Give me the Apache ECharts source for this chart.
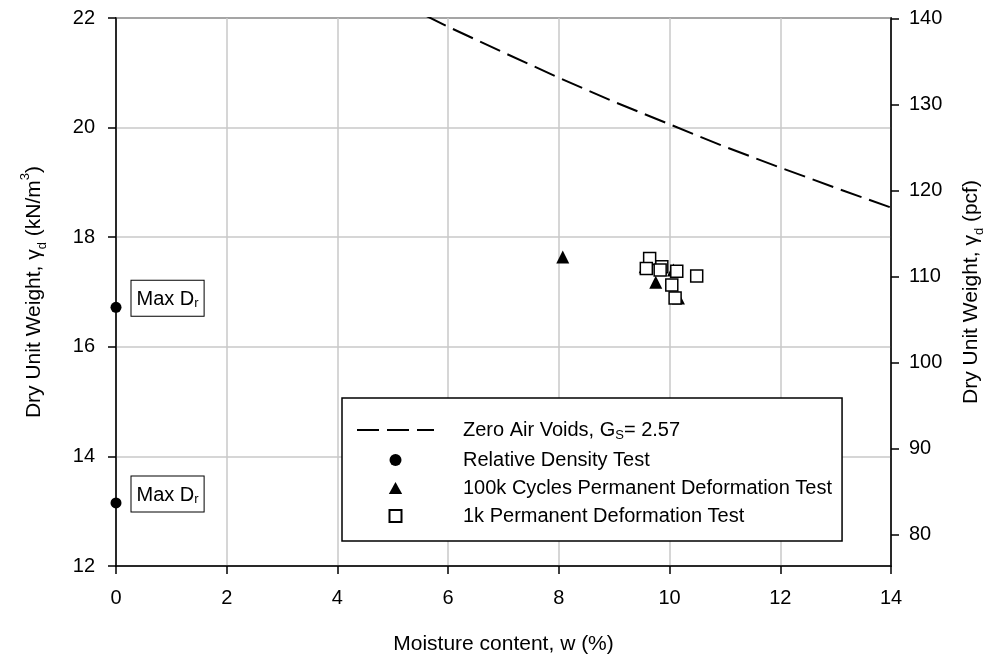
<!DOCTYPE html>
<html><head><meta charset="utf-8">
<script src="https://cdn.jsdelivr.net/npm/echarts@6/dist/echarts.min.js"></script>
<style>html,body{margin:0;padding:0;background:#fff}#c{width:986px;height:660px}</style>
</head><body><div id="c"></div>
<script>
// Zero air voids curve
const zavW = [5.6, 6, 7, 8, 9, 10, 11, 12, 13, 14];
const zavGamma = [22.04, 21.84, 21.37, 20.91, 20.47, 20.06, 19.65, 19.27, 18.90, 18.54];
// Relative density test
const rdW = [0, 0];
const rdGamma = [16.72, 13.15];
// 100k cycles permanent deformation test
const c100kW = [8.07, 9.56, 9.75, 10.07, 10.16];
const c100kGamma = [17.64, 17.46, 17.18, 17.40, 16.89];
// 1k permanent deformation test
const k1W = [9.64, 9.58, 9.86, 9.83, 10.13, 10.49, 10.04, 10.10];
const k1Gamma = [17.61, 17.43, 17.46, 17.40, 17.38, 17.29, 17.13, 16.89];
// axes
const xMin = 0, xMax = 14, xStep = 2;
const leftMin = 12, leftMax = 22, leftStep = 2;
const rightTicks = [80, 90, 100, 110, 120, 130, 140];
const KN_TO_PCF = 6.3659;

const FONT = "'Liberation Sans', Arial, sans-serif";
const zip = (a, b) => a.map((v, i) => [v, b[i]]);
const subStyle = { fontSize: 13, fontFamily: FONT, color: '#000', verticalAlign: 'bottom', lineHeight: 14 };
const supStyle = { fontSize: 13, fontFamily: FONT, color: '#000', verticalAlign: 'top', lineHeight: 14 };

const chart = echarts.init(document.getElementById('c'), null, { renderer: 'canvas' });
chart.setOption({
  animation: false,
  backgroundColor: '#fff',
  textStyle: { fontFamily: FONT },
  grid: { left: 116, right: 95, top: 18, bottom: 94, show: true, borderColor: '#000', borderWidth: 1.5, containLabel: false, outerBoundsMode: 'none' },
  legend: {
    orient: 'vertical', left: 342, top: 398,
    backgroundColor: '#fff', borderColor: '#000', borderWidth: 1.5,
    padding: [22, 10, 15, 14],
    itemWidth: 77, itemHeight: 12, itemGap: 8, symbolKeepAspect: true,
    data: [
      { name: 'zav', itemStyle: { color: 'rgba(0,0,0,0)', borderWidth: 0, opacity: 0 } },
      { name: 'rd', icon: 'circle' },
      { name: 'c100k', icon: 'path://M5,0L10,9L0,9Z' },
      { name: 'k1', icon: 'path://M0,0H10V10H0Z' }
    ],
    formatter: function (n) {
      return {
        zav: '{m|Zero Air Voids, G}{s|S}{m|= 2.57}',
        rd: '{m|Relative Density Test}',
        c100k: '{m|100k Cycles Permanent Deformation Test}',
        k1: '{m|1k Permanent Deformation Test}'
      }[n];
    },
    textStyle: {
      fontSize: 20, color: '#000', fontFamily: FONT, padding: [0, 0, 0, 24],
      rich: {
        m: { fontSize: 20, lineHeight: 24, color: '#000', fontFamily: FONT },
        s: { fontSize: 13, lineHeight: 14, color: '#000', fontFamily: FONT, verticalAlign: 'bottom' }
      }
    }
  },
  xAxis: {
    type: 'value', min: xMin, max: xMax, interval: xStep,
    name: 'Moisture content, w (%)', nameLocation: 'middle', nameGap: 68,
    nameTextStyle: { fontSize: 21, color: '#000', fontFamily: FONT },
    axisLine: { lineStyle: { color: '#000', width: 1.5 } },
    axisTick: { show: true, inside: false, length: 8, lineStyle: { color: '#000', width: 1.5 } },
    axisLabel: { fontSize: 20, color: '#000', margin: 22, fontFamily: FONT },
    splitLine: { show: true, lineStyle: { color: '#c8c8c8', width: 1.5 } }
  },
  yAxis: [{
    type: 'value', min: leftMin, max: leftMax, interval: leftStep, position: 'left',
    name: 'Dry Unit Weight, \u03b3{sub|d} (kN/m{sup|3})', nameLocation: 'middle', nameGap: 67,
    nameTextStyle: { fontSize: 21, color: '#000', fontFamily: FONT, lineHeight: 30, rich: { sub: subStyle, sup: supStyle } },
    axisLine: { show: true, lineStyle: { color: '#000', width: 1.5 } },
    axisTick: { show: true, inside: false, length: 8, lineStyle: { color: '#000', width: 1.5 } },
    axisLabel: { fontSize: 20, color: '#000', margin: 21, fontFamily: FONT },
    splitLine: { show: true, lineStyle: { color: '#c8c8c8', width: 1.5 } }
  }, {
    type: 'value', min: leftMin * KN_TO_PCF, max: leftMax * KN_TO_PCF, position: 'right',
    name: 'Dry Unit Weight, \u03b3{sub|d} (pcf)', nameLocation: 'middle', nameGap: 65,
    nameTextStyle: { fontSize: 21, color: '#000', fontFamily: FONT, lineHeight: 30, rich: { sub: subStyle } },
    axisLine: { show: true, lineStyle: { color: '#000', width: 1.5 } },
    axisTick: { show: true, inside: false, length: 8, customValues: rightTicks, lineStyle: { color: '#000', width: 1.5 } },
    axisLabel: { fontSize: 20, color: '#000', margin: 18, fontFamily: FONT, customValues: rightTicks },
    splitLine: { show: false }
  }],
  series: [{
    name: 'zav', type: 'line', data: zip(zavW, zavGamma), symbol: 'none', smooth: false, clip: true,
    lineStyle: { color: '#000', width: 2, type: [22, 8] }, itemStyle: { color: '#000' }
  }, {
    name: 'rd', type: 'scatter', data: zip(rdW, rdGamma), symbol: 'circle', symbolSize: 11, clip: false,
    itemStyle: { color: '#000', opacity: 1 },
    label: {
      show: true, position: 'right', distance: 10, offset: [0, -9],
      formatter: 'Max D{sub|r}', fontSize: 20, color: '#000', fontFamily: FONT,
      backgroundColor: '#fff', borderColor: '#000', borderWidth: 1, padding: [9, 5, 6, 5],
      rich: { sub: subStyle }
    }
  }, {
    name: 'c100k', type: 'scatter', data: zip(c100kW, c100kGamma), symbol: 'triangle', symbolSize: 13, clip: false,
    itemStyle: { color: '#000', opacity: 1 }
  }, {
    name: 'k1', type: 'scatter', data: zip(k1W, k1Gamma), symbol: 'rect', symbolSize: 12, clip: false,
    itemStyle: { color: '#fff', borderColor: '#000', borderWidth: 1.5, opacity: 1 }
  }]
});
</script></body></html>
